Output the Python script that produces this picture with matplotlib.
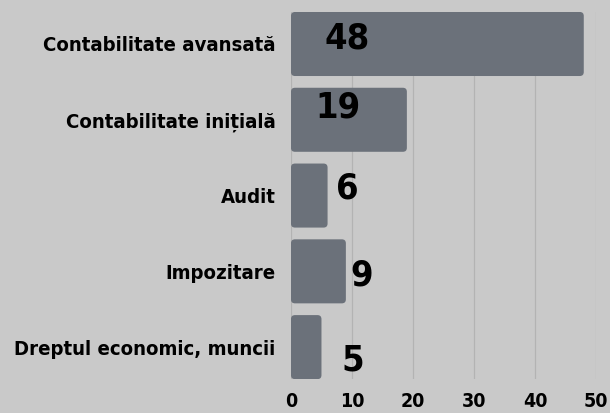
import matplotlib
matplotlib.use("Agg")
import matplotlib.pyplot as plt
from matplotlib.patches import FancyBboxPatch

categories = ["Contabilitate avansată", "Contabilitate inițială", "Audit",
              "Impozitare", "Dreptul economic, muncii"]
values = [48, 19, 6, 9, 5]
label_x = [9.2, 7.7, 9.2, 11.6, 10.2]
label_dy = [-0.07, -0.16, -0.09, 0.05, 0.18]
xticks = [0, 10, 20, 30, 40, 50]

BG = "#c9c9c9"
BAR = "#6b717a"
FAM = ["DejaVu Sans"]

fig = plt.figure(figsize=(6.1, 4.13), dpi=100, facecolor=BG)
ax = fig.add_axes([0.477, 0.082, 0.5, 0.889])
ax.set_facecolor(BG)

h = 0.845
bars = ax.barh(range(len(values)), values, height=h, color=BAR)
ax.set_xlim(0, 50)
ax.set_ylim(len(values) - 1 + h / 2, -h / 2)

xpx = 305 / 50.0
ypx = 75.75
for b in bars:
    b.set_visible(False)
    x, y = b.get_x(), b.get_y()
    w, hh = b.get_width(), b.get_height()
    p = FancyBboxPatch((x, y), w, hh,
                       boxstyle="round,pad=0,rounding_size=%f" % (4 / xpx),
                       mutation_aspect=xpx / ypx,
                       facecolor=BAR, edgecolor="none", zorder=2)
    ax.add_patch(p)

for i, v in enumerate(values):
    ax.text(label_x[i], i + label_dy[i], str(v), ha="center", va="center",
            fontsize=26, fontweight="bold", color="black",
            family=FAM, fontstretch="condensed", zorder=3)

ax.set_xticks(xticks)
ax.set_yticks(range(len(categories)))
ax.set_yticklabels(categories, fontsize=14.6, fontweight="bold",
                   family=FAM, fontstretch="condensed")
for t in ax.get_xticklabels():
    t.set_fontsize(14)
    t.set_fontweight("bold")
    t.set_family(FAM)
    t.set_fontstretch("condensed")
ax.tick_params(axis="both", length=0, colors="black")
ax.tick_params(axis="y", pad=11)
ax.tick_params(axis="x", pad=9)
ax.grid(axis="x", color="#b3b3b3", linewidth=0.9, zorder=0)
ax.set_axisbelow(True)
for s in ax.spines.values():
    s.set_visible(False)

fig.savefig("out.png", dpi=100, facecolor=BG)
